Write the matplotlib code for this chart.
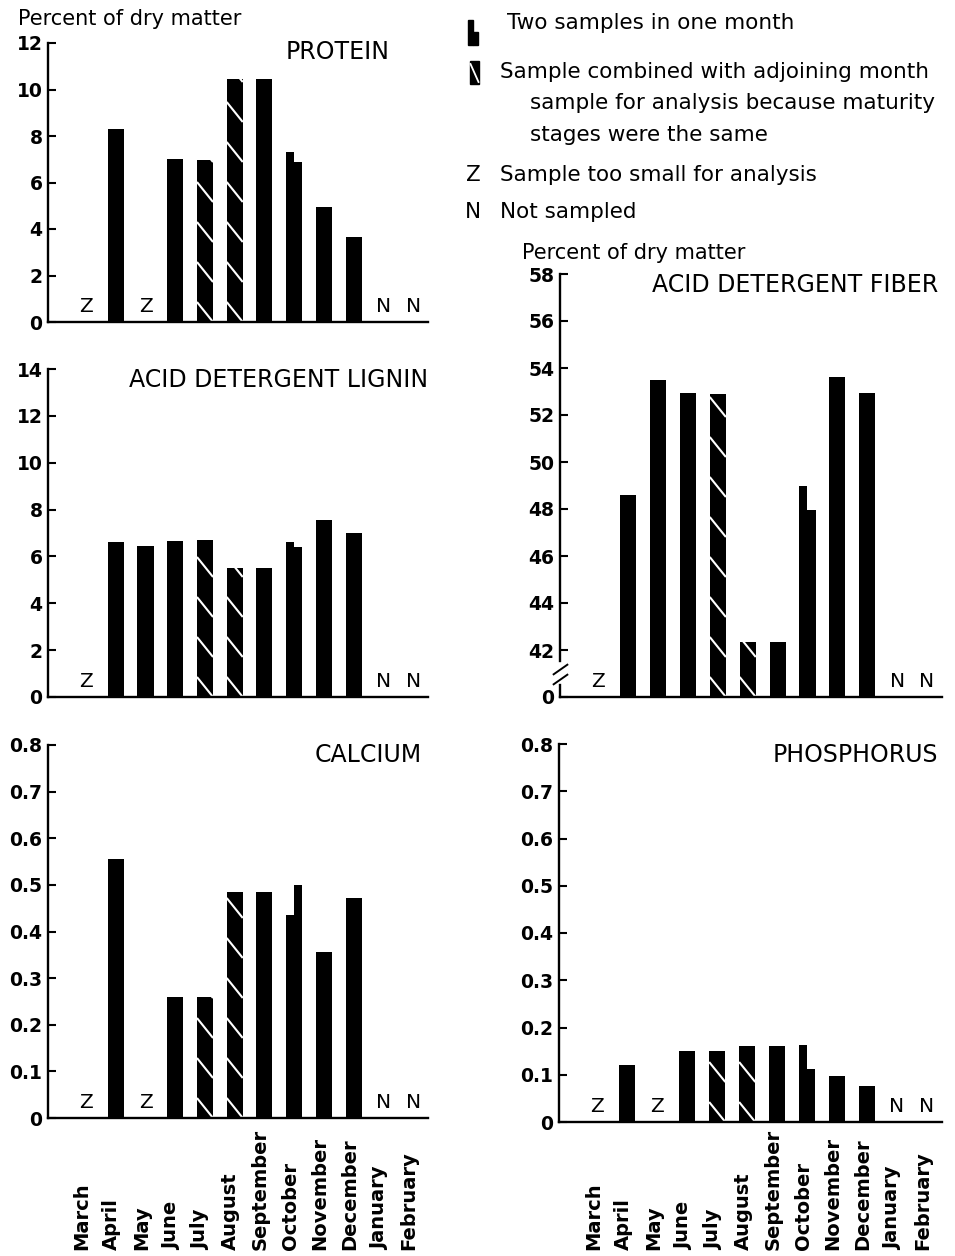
import numpy as np
import matplotlib
matplotlib.use("Agg")
import matplotlib.pyplot as plt
from matplotlib.patches import Rectangle
from matplotlib.transforms import blended_transform_factory, offset_copy

plt.rcParams["font.family"] = ["DejaVu Sans"]

months = ["March", "April", "May", "June", "July", "August",
          "September", "October", "November", "December", "January", "February"]

# one value per month, None where no bar is drawn
protein = [None, 8.3, None, 7.0, 6.95, 10.45, 10.45, 7.3, 4.95, 3.65, None, None]
lignin = [None, 6.6, 6.45, 6.65, 6.7, 5.5, 5.5, 6.63, 7.57, 7.0, None, None]
fiber = [None, 48.6, 53.5, 52.95, 52.9, 42.35, 42.35, 49.0, 53.6, 52.95, None, None]
calcium = [None, 0.555, None, 0.26, 0.26, 0.485, 0.485, 0.435, 0.355, 0.472, None, None]
phosphorus = [None, 0.121, None, 0.15, 0.15, 0.161, 0.161, 0.162, 0.097, 0.077, None, None]

# second October sample (right half of split bar)
protein_oct2 = 6.87
lignin_oct2 = 6.42
fiber_oct2 = 47.95
calcium_oct2 = 0.50
phosphorus_oct2 = 0.112

# Z = sample too small, N = not sampled
flags_a = ["Z", "", "Z", "", "", "", "", "", "", "", "N", "N"]
flags_b = ["Z", "", "", "", "", "", "", "", "", "", "N", "N"]

combined = ["July", "August"]
split = "October"

W, H = 955, 1256
fig = plt.figure(figsize=(W / 100, H / 100), dpi=100)


def fx(p):
    return p / W


def fy(p):
    return 1 - p / H


def add_ax(l, r, b, t):
    return fig.add_axes([fx(l), fy(b), fx(r - l), (b - t) / H])


def hatch(ax, b, sp=40, drop=20):
    y0, y1 = ax.get_ylim()
    py = ax.bbox.height / (y1 - y0)
    xl, xr = b.get_x(), b.get_x() + b.get_width()
    bot, top = b.get_y(), b.get_y() + b.get_height()
    k = 0
    while bot + k * sp / py < top + drop / py:
        yb = bot + k * sp / py
        ln, = ax.plot([xl, xr], [yb + drop / py, yb], color="white", lw=1.5,
                      solid_capstyle="butt")
        ln.set_clip_path(b)
        k += 1


def panel(ax, vals, v2, flags, lo, hi, ticks, labels, title, tpos):
    w = 0.54
    ax.set_xlim(-1.28, 11.5)
    ax.set_ylim(lo, hi)
    for i, m in enumerate(months):
        v = vals[i]
        if v is None:
            if flags[i]:
                ax.annotate(flags[i], (i, lo), xytext=(0, 7.5), textcoords="offset points",
                            ha="center", va="baseline", fontsize=14.5)
            continue
        if m == split:
            ax.bar(i - w / 4, v - lo, w / 2, bottom=lo, color="black")
            ax.bar(i + w / 4, v2 - lo, w / 2, bottom=lo, color="black")
        else:
            b = ax.bar(i, v - lo, w, bottom=lo, color="black")[0]
            if m in combined:
                hatch(ax, b)
    for s in ["top", "right"]:
        ax.spines[s].set_visible(False)
    for s in ["left", "bottom"]:
        ax.spines[s].set_linewidth(1.7)
    ax.set_xticks([])
    ax.set_yticks(ticks, labels, fontweight="bold")
    ax.tick_params(axis="y", direction="in", length=6, width=1.5, pad=4, labelsize=13.5)
    ax.text(tpos[0], tpos[1], title, transform=ax.transAxes, ha="right", va="center",
            fontsize=17)


def month_labels(ax):
    tr = offset_copy(blended_transform_factory(ax.transData, fig.transFigure),
                     fig=fig, x=-4, units="dots")
    for i, m in enumerate(months):
        ax.text(i, 6 / H, m, rotation=90, ha="center", va="bottom", transform=tr,
                fontweight="bold", fontsize=14)


# protein
ax1 = add_ax(48, 428, 322, 43)
panel(ax1, protein, protein_oct2, flags_a, 0, 12, np.arange(0, 13, 2),
      [str(t) for t in range(0, 13, 2)], "PROTEIN", (0.9, 0.968))

# lignin
ax2 = add_ax(48, 428, 697, 369)
panel(ax2, lignin, lignin_oct2, flags_b, 0, 14, np.arange(0, 15, 2),
      [str(t) for t in range(0, 15, 2)], "ACID DETERGENT LIGNIN", (1.0, 0.966))

# calcium
ax3 = add_ax(48, 428, 1118, 745)
ca_ticks = np.round(np.arange(0, 0.81, 0.1), 1)
panel(ax3, calcium, calcium_oct2, flags_a, 0, 0.8, ca_ticks,
      ["0"] + [f"{t:.1f}" for t in ca_ticks[1:]], "CALCIUM", (0.984, 0.973))
month_labels(ax3)

# acid detergent fiber (broken axis: 0, then 42-58)
ax4 = add_ax(560, 942, 697, 274)
fb_ticks = np.arange(40, 59, 2)
panel(ax4, fiber, fiber_oct2, flags_b, 40, 58, fb_ticks,
      ["0"] + [str(t) for t in fb_ticks[1:]], "ACID DETERGENT FIBER", (0.99, 0.974))
ax4.spines["left"].set_bounds(41.55, 58)
yt = ax4.get_yaxis_transform()
ax4.plot([0, 0], [40, 40.5], transform=yt, color="black", lw=1.7, clip_on=False)
ax4.plot([0, 0], [41.2, 40.75], transform=yt, color="black", linestyle="none",
         marker=[(-1, -0.7), (1, 0.7)], markersize=11, mew=1.4, clip_on=False)

# phosphorus
ax5 = add_ax(559, 942, 1122, 744)
p_ticks = np.round(np.arange(0, 0.81, 0.1), 1)
panel(ax5, phosphorus, phosphorus_oct2, flags_a, 0, 0.8, p_ticks,
      ["0"] + [f"{t:.1f}" for t in p_ticks[1:]], "PHOSPHORUS", (0.99, 0.971))
month_labels(ax5)

fig.text(fx(18), fy(19), "Percent of dry matter", ha="left", va="center", fontsize=15)
fig.text(fx(522), fy(253), "Percent of dry matter", ha="left", va="center", fontsize=15)

# key
lg = fig.add_axes([fx(460), fy(240), fx(495), 240 / H])
lg.set_xlim(460, 955)
lg.set_ylim(240, 0)
lg.axis("off")
lg.add_patch(Rectangle((468, 20), 5, 25, color="black"))
lg.add_patch(Rectangle((472.5, 32), 5.5, 13, color="black"))
lg.add_patch(Rectangle((470, 61), 9, 23, color="black"))
lg.plot([470.5, 478.5], [64, 82], color="white", lw=1.3)
fs = 15.5
lg.text(507, 23, "Two samples in one month", va="center", fontsize=fs)
lg.text(500, 72, "Sample combined with adjoining month", va="center", fontsize=fs)
lg.text(530, 103, "sample for analysis because maturity", va="center", fontsize=fs)
lg.text(530, 135, "stages were the same", va="center", fontsize=fs)
lg.text(473, 175, "Z", ha="center", va="center", fontsize=fs)
lg.text(500, 175, "Sample too small for analysis", va="center", fontsize=fs)
lg.text(473, 212, "N", ha="center", va="center", fontsize=fs)
lg.text(500, 212, "Not sampled", va="center", fontsize=fs)

fig.savefig("out.png", dpi=100)
